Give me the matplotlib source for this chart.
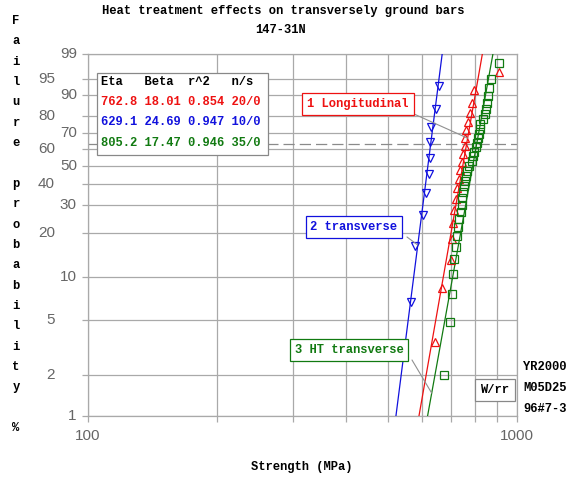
import numpy as np
import matplotlib
matplotlib.use("Agg")
import matplotlib.pyplot as plt
from matplotlib.patches import Rectangle
from matplotlib.transforms import blended_transform_factory
from matplotlib.ticker import NullFormatter, NullLocator

# ---------------- data ----------------
series_names = ["1 Longitudinal", "2 transverse", "3 HT transverse"]
eta = [762.8, 629.1, 805.2]
beta = [18.01, 24.69, 17.47]
r2 = [0.854, 0.947, 0.946]
ns = ["20/0", "10/0", "35/0"]

strength_long = [644, 669, 702, 706, 709, 713, 721, 725, 732, 736,
                 744, 748, 757, 757, 761, 769, 777, 785, 794, 908]
strength_trans = [566, 577, 605, 612, 624, 627, 627, 630, 648, 658]
strength_ht = [676, 698, 705, 709, 714, 721, 726, 730, 734, 739,
               743, 746, 750, 752, 757, 761, 766, 774, 784, 791,
               795, 801, 806, 813, 817, 821, 822, 832, 842, 847,
               853, 857, 862, 869, 907]

y_ticks = [1, 2, 5, 10, 20, 30, 40, 50, 60, 70, 80, 90, 95, 99]
y_near = [1, 10, 30, 50, 70, 90, 99]
x_minor = [200, 300, 400, 500, 600, 700, 800, 900]

colors = ["#ee1111", "#1111dd", "#117a11"]
markers = ["^", "v", "s"]

W, H = 573, 478
fig = plt.figure(figsize=(W / 100, H / 100), dpi=100)
ax = fig.add_axes([88 / W, 1 - 416 / H, (517 - 88) / W, (416 - 54) / H])


def fwd(p):
    p = np.clip(np.asarray(p, dtype=float), 1e-9, 100 - 1e-9)
    return np.log(-np.log(1 - p / 100.0))


def inv(w):
    return 100.0 * (1 - np.exp(-np.exp(np.asarray(w, dtype=float))))


ax.set_xscale("log")
ax.set_yscale("function", functions=(fwd, inv))
ax.set_xlim(100, 1000)
ax.set_ylim(1, 99)

grid_c = "#a9a9a9"
ax.set_xticks([100, 1000])
ax.set_xticks(x_minor, minor=True)
ax.set_xticklabels(["100", "1000"])
ax.xaxis.set_minor_formatter(NullFormatter())
ax.set_yticks(y_ticks)
ax.set_yticklabels([])
ax.yaxis.set_minor_locator(NullLocator())
ax.grid(True, which="both", color=grid_c, lw=0.9)
ax.set_axisbelow(True)
for s in ax.spines.values():
    s.set_color(grid_c)
    s.set_linewidth(0.9)
ax.tick_params(which="both", direction="out", length=4, width=0.9, color=grid_c)
tick_font = dict(family=["Liberation Sans Narrow", "Liberation Sans"], size=11, color="#666666")
for lab in ax.get_xticklabels():
    lab.set_fontfamily(tick_font["family"])
    lab.set_fontsize(tick_font["size"])
    lab.set_color(tick_font["color"])
ax.tick_params(axis="x", pad=5)

trans = blended_transform_factory(ax.transAxes, ax.transData)
for t in y_ticks:
    xpos = -0.026 if t in y_near else -0.077
    ax.text(xpos, t, str(t), transform=trans, ha="right", va="center", **tick_font)

# 63.2 % dashed line
ax.axhline(63.2, color="#8a8a8a", lw=0.9, ls=(0, (9, 4)), zorder=1.5)

# fit lines and points
data = [strength_long, strength_trans, strength_ht]
pfit = np.linspace(1, 99, 400)
for k in range(3):
    xs = eta[k] * (-np.log(1 - pfit / 100)) ** (1 / beta[k])
    ax.plot(xs, pfit, color=colors[k], lw=0.9, zorder=3)
    n = len(data[k])
    ranks = (np.arange(1, n + 1) - 0.3) / (n + 0.4) * 100
    ax.plot(data[k], ranks, ls="none", marker=markers[k], ms=6 if k < 2 else 5.5,
            mfc="none", mec=colors[k], mew=0.9, zorder=4)

mono = ["Liberation Mono", "DejaVu Sans Mono"]


def fp(x, y):
    return (x / W, 1 - y / H)


def fitx(k, p):
    return eta[k] * (-np.log(1 - p / 100)) ** (1 / beta[k])


# label boxes with leaders
labels_pos = [(358, 104), (354, 227), (349, 350)]
leader_start = [(414, 114), (407, 237), (412, 360)]
leader_p = [67.0, 16.6, 1.47]
for k in range(3):
    ax.annotate("", xy=(fitx(k, leader_p[k]), leader_p[k]), xycoords="data",
                xytext=fp(*leader_start[k]), textcoords="figure fraction",
                arrowprops=dict(arrowstyle="-", color="#909090", lw=0.8,
                                shrinkA=0, shrinkB=0), zorder=5)
    fig.text(*fp(*labels_pos[k]), series_names[k], family=mono, weight="bold",
             size=8.7, color=colors[k], ha="center", va="center", zorder=6,
             bbox=dict(boxstyle="square,pad=0.4", fc="white", ec=colors[k], lw=0.9))

# W/rr box
fig.text(*fp(495, 390), "W/rr", family=mono, weight="bold", size=8.7,
         color="black", ha="center", va="center",
         bbox=dict(boxstyle="square,pad=0.45", fc="white", ec="#888888", lw=0.9))

# statistics table
x0, y0, x1, y1 = 97, 73, 268, 155
fig.patches.append(Rectangle(fp(x0, y1), (x1 - x0) / W, (y1 - y0) / H,
                             transform=fig.transFigure, fc="white", ec="#888888",
                             lw=0.9, zorder=5))
fig.text(*fp(101, 82), "Eta   Beta  r^2   n/s", family=mono, weight="bold",
         size=8.7, color="black", ha="left", va="center", zorder=6)
row_y = [102, 122, 143]
for k in range(3):
    s = f"{eta[k]:.1f} {beta[k]:.2f} {r2[k]:.3f} {ns[k]}"
    fig.text(*fp(101, row_y[k]), s, family=mono, weight="bold", size=8.7,
             color=colors[k], ha="left", va="center", zorder=6)

# titles
fig.text(*fp(283, 11), "Heat treatment effects on transversely ground bars",
         family=mono, weight="bold", size=8.7, ha="center", va="center")
fig.text(*fp(281, 30), "147-31N", family=mono, weight="bold", size=8.7,
         ha="center", va="center")
fig.text(*fp(302, 467), "Strength (MPa)", family=mono, weight="bold", size=8.7,
         ha="center", va="center")

# vertical y label
ylab = "Failure probability %"
for i, ch in enumerate(ylab):
    if ch != " ":
        fig.text(*fp(16, 21 + i * 20.35), ch, family=mono, weight="bold", size=8.7,
                 ha="center", va="center")

# right side stamp
for i, s in enumerate(["YR2000", "M05D25", "96#7-3"]):
    fig.text(*fp(523, 367 + i * 21), s, family=mono, weight="bold", size=8.7,
             ha="left", va="center")

fig.savefig("out.png", dpi=100)
